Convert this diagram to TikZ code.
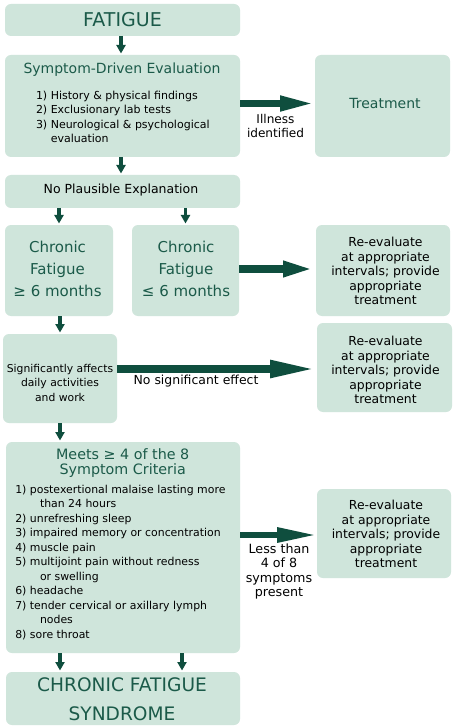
\documentclass[tikz,border=0pt]{standalone}
\usepackage{fontspec}
\setmainfont{DejaVu Sans}
\usetikzlibrary{arrows.meta}
\definecolor{boxfill}{HTML}{CFE5DB}
\definecolor{arrowcol}{HTML}{0F4E3E}
\definecolor{titlecol}{HTML}{1B5A49}
\begin{document}
\begin{tikzpicture}[x=1pt,y=-1pt,
  box/.style={fill=boxfill, rounded corners=6pt, inner sep=0pt, outer sep=0pt, anchor=north west},
  txt/.style={inner sep=0pt, outer sep=0pt, align=center},
  ttl/.style={txt, text=titlecol},
  small/.style={draw=arrowcol, line width=3.5pt, -{Triangle[length=8.5pt,width=9pt]}, shorten >=1.5pt},
  fat/.style n args={3}{draw=arrowcol, line width=#1, -{Triangle[length=#2,width=#3]}}
]
\useasboundingbox (0,0) rectangle (454,727);
\fill[white] (0,0) rectangle (454,727);

% boxes
\node[box, minimum width=235pt, minimum height=32pt] (fat) at (5,4) {};
\node[box, minimum width=235pt, minimum height=102pt] (sde) at (5,55) {};
\node[box, minimum width=135pt, minimum height=102pt] (treat) at (315,55) {};
\node[box, minimum width=235pt, minimum height=33pt] (npe) at (5,175) {};
\node[box, minimum width=108pt, minimum height=91pt] (cf1) at (5,225) {};
\node[box, minimum width=107pt, minimum height=91pt] (cf2) at (132,225) {};
\node[box, minimum width=134pt, minimum height=91pt] (re1) at (316,225) {};
\node[box, minimum width=114pt, minimum height=89pt] (sig) at (3,334) {};
\node[box, minimum width=135pt, minimum height=89pt] (re2) at (317,323) {};
\node[box, minimum width=234pt, minimum height=211pt] (meets) at (6,442) {};
\node[box, minimum width=134pt, minimum height=89pt] (re3) at (317,489) {};
\node[box, minimum width=234pt, minimum height=53pt] (cfs) at (6,672) {};

% texts
\node[ttl, font={\fontsize{19}{22}\selectfont}] (fatT) at (122.5,20) {FATIGUE};
\node[ttl, font={\fontsize{14}{17}\selectfont}] (sdeT) at (122,70) {Symptom-Driven Evaluation};
\node[txt, align=left, anchor=west, font={\fontsize{11}{14.5}\selectfont}] (sdeL) at (36,117.5)
  {1) History \& physical findings\\2) Exclusionary lab tests\\3) Neurological \& psychological\\\phantom{3) }evaluation};
\node[ttl, font={\fontsize{14}{17}\selectfont}] (treatT) at (385,103.5) {Treatment};
\node[txt, font={\fontsize{12.1}{14}\selectfont}] (ill) at (275.5,125.5) {Illness\\identified};
\node[txt, font={\fontsize{12.5}{15}\selectfont}] (npeT) at (121,190.5) {No Plausible Explanation};
\node[ttl, font={\fontsize{15}{22}\selectfont}] (cf1T) at (57.5,268.5) {Chronic\\Fatigue\\≥ 6 months};
\node[ttl, font={\fontsize{15}{22}\selectfont}] (cf2T) at (186,268.5) {Chronic\\Fatigue\\≤ 6 months};
\node[txt, font={\fontsize{12.4}{14.4}\selectfont}] (re1T) at (385.5,271) {Re-evaluate\\at appropriate\\intervals; provide\\appropriate\\treatment};
\node[txt, font={\fontsize{10.8}{14.5}\selectfont}] (sigT) at (60,382.5) {Significantly affects\\daily activities\\and work};
\node[txt, font={\fontsize{12.4}{14.4}\selectfont}] (re2T) at (385.5,370) {Re-evaluate\\at appropriate\\intervals; provide\\appropriate\\treatment};
\node[txt, font={\fontsize{12.45}{15}\selectfont}] (noeff) at (196,381.5) {No significant effect};
\node[ttl, font={\fontsize{14.3}{15}\selectfont}] (meetsT) at (122.7,463) {Meets ≥ 4 of the 8\\Symptom Criteria};
\node[txt, align=left, anchor=west, font={\fontsize{10.9}{14.5}\selectfont}] (meetsL) at (15.3,562.5)
  {1) postexertional malaise lasting more\\\hspace*{24.7pt}than 24 hours\\2) unrefreshing sleep\\3) impaired memory or concentration\\4) muscle pain\\5) multijoint pain without redness\\\hspace*{24.7pt}or swelling\\6) headache\\7) tender cervical or axillary lymph\\\hspace*{24.7pt}nodes\\8) sore throat};
\node[txt, font={\fontsize{12.4}{14.4}\selectfont}] (re3T) at (386,534) {Re-evaluate\\at appropriate\\intervals; provide\\appropriate\\treatment};
\node[txt, font={\fontsize{12.7}{14.5}\selectfont}] (less) at (279,571.5) {Less than\\4 of 8\\symptoms\\present};
\node[ttl, font={\fontsize{18.6}{28.5}\selectfont}] (cfsT) at (122,699) {CHRONIC FATIGUE\\SYNDROME};

% small arrows
\draw[small] ([xshift=-1.5pt]fat.south) -- ([xshift=-1.5pt]sde.north);
\draw[small] ([xshift=-1.5pt]sde.south) -- ([xshift=-1.5pt]npe.north);
\draw[small] (npe.south -| cf1.north) -- (cf1.north);
\draw[small] (npe.south -| cf2.north) -- (cf2.north);
\draw[small] ([xshift=1pt]cf1.south) -- ([xshift=1pt]cf1.south |- sig.north);
\draw[small] (sig.south) -- (sig.south |- meets.north);
\draw[small] ([xshift=-63pt]meets.south) -- ([xshift=-63pt]cfs.north);
\draw[small] ([xshift=59pt]meets.south) -- ([xshift=59pt]cfs.north);

% fat arrows
\draw[fat={7pt}{35pt}{14pt}] ([yshift=2.5pt]sde.east) -- ([yshift=2.5pt]treat.west);
\draw[fat={8pt}{33pt}{14pt}] ([yshift=1.5pt]cf2.east) -- ([yshift=1.5pt]re1.west);
\draw[fat={8pt}{47pt}{16pt}] ([yshift=9.5pt]sig.east) -- ([yshift=-1.5pt]re2.west);
\draw[fat={6pt}{40pt}{14pt}] ([yshift=12.5pt]meets.east) -- ([yshift=-1.5pt]re3.west);
\end{tikzpicture}
\end{document}
